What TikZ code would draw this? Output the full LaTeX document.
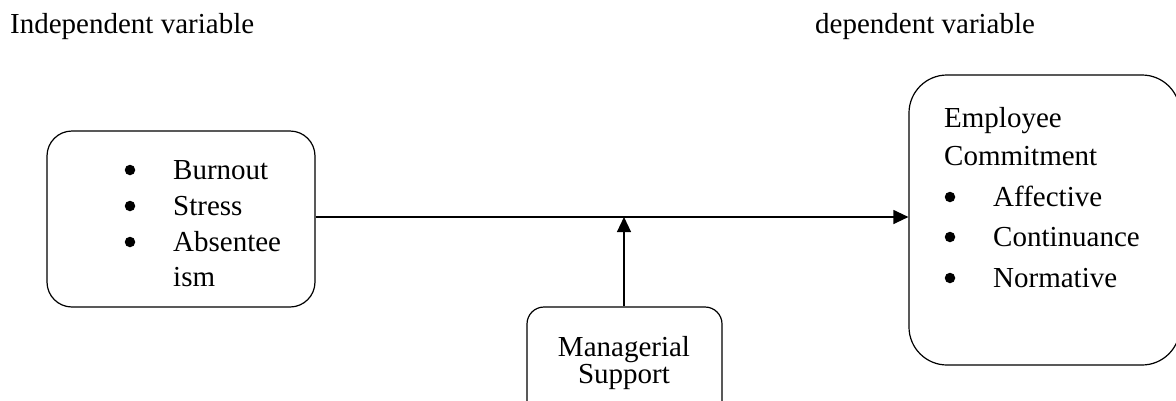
\documentclass[tikz,border=0pt]{standalone}
\usepackage{fontspec}
\setmainfont{Liberation Serif}
\usetikzlibrary{arrows.meta}
\tikzset{
  x=1pt,y=-1pt,
  box/.style={draw,line width=1.2pt,inner sep=0pt},
  txt/.style={anchor=base west,inner sep=0pt,font=\fontsize{29}{34}\selectfont},
  bul/.style={circle,fill,inner sep=0pt,minimum size=10.5pt},
  arr/.style={line width=1.2pt,-{Triangle[length=15pt,width=14pt]}}
}
\begin{document}
\begin{tikzpicture}
\useasboundingbox (0,0) rectangle (1176,400);
\clip (0,0) rectangle (1176,400);
% headers
\node[txt] (hiv) at (10,33) {Independent variable};
\node[txt] (hdv) at (815,33) {dependent variable};
% boxes
\node[box,rounded corners=25pt,minimum width=268pt,minimum height=176pt] (iv) at (181,219) {};
\node[box,rounded corners=38pt,minimum width=271pt,minimum height=290pt] (dv) at (1044.5,220) {};
\node[box,rounded corners=17pt,minimum width=195pt,minimum height=113pt] (ms) at (624.5,363.5) {};
% left box text
\node[bul] (b1) at (130,170) {};
\node[txt] (t1) at (173,179) {Burnout};
\node[bul] (b2) at (130,206) {};
\node[txt] (t2) at (173,215) {Stress};
\node[bul] (b3) at (130,242) {};
\node[txt] (t3) at (173,251) {Absentee};
\node[txt] (t4) at (173,286) {ism};
% right box text
\node[txt] (e1) at (944,127) {Employee};
\node[txt] (e2) at (944,165) {Commitment};
\node[bul] (c1) at (950,197) {};
\node[txt] (e3) at (993,206) {Affective};
\node[bul] (c2) at (950,237) {};
\node[txt] (e4) at (993,246) {Continuance};
\node[bul] (c3) at (950,278) {};
\node[txt] (e5) at (993,287) {Normative};
% managerial text
\node[anchor=base,inner sep=0pt,align=center,font=\fontsize{29}{27}\selectfont] (m1) at (624,383) {Managerial\\Support};
% connectors
\coordinate (j) at (624,217);
\draw[arr] (iv.east |- j) -- (dv.west |- j);
\draw[arr] (ms.north -| j) -- (j);
\end{tikzpicture}
\end{document}
